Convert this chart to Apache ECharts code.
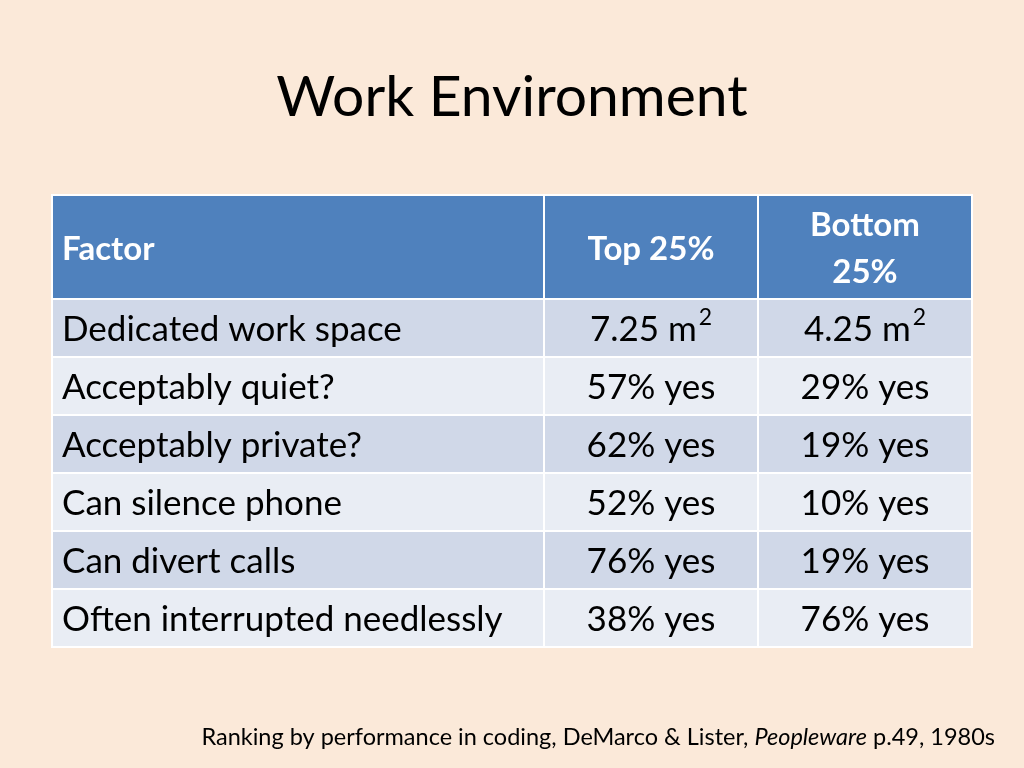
<!DOCTYPE html>
<html>
<head>
<meta charset="utf-8">
<script src="https://cdn.jsdelivr.net/npm/echarts@6/dist/echarts.min.js"></script>
<style>html,body{margin:0;padding:0;background:#fbe9d9}#chart{width:1024px;height:768px}</style>
</head>
<body>
<div id="chart"></div>
<script>
var headers = ['Factor', 'Top 25%', 'Bottom\n25%'];
var factors = ['Dedicated work space', 'Acceptably quiet?', 'Acceptably private?', 'Can silence phone', 'Can divert calls', 'Often interrupted needlessly'];
var top25 = ['7.25 m{sup|2}', '57% yes', '62% yes', '52% yes', '76% yes', '38% yes'];
var bottom25 = ['4.25 m{sup|2}', '29% yes', '19% yes', '10% yes', '19% yes', '76% yes'];

// column edges and row edges in table units (px-like, relative to grid)
var colEdges = [0, 492, 706, 920];
var headerH = 104;
var rowH = 58;

var cells = [];
headers.forEach(function (h, c) { cells.push({ value: [c, -1], text: h }); });
factors.forEach(function (f, r) {
  cells.push({ value: [0, r], text: f });
  cells.push({ value: [1, r], text: top25[r] });
  cells.push({ value: [2, r], text: bottom25[r] });
});

var chart = echarts.init(document.getElementById('chart'));
chart.setOption({
  backgroundColor: '#fbe9d9',
  title: {
    text: 'Work Environment', left: 'center', top: 64,
    textStyle: { fontFamily: 'Lato', fontSize: 57, fontWeight: 'normal', color: '#000' }
  },
  grid: { left: 52, right: 52, top: 195, bottom: 121 },
  xAxis: { type: 'value', min: 0, max: 920, show: false },
  yAxis: { type: 'value', min: 0, max: headerH + rowH * factors.length, inverse: true, show: false },
  series: [{
    type: 'custom',
    data: cells,
    renderItem: function (params, api) {
      var c = api.value(0), r = api.value(1);
      var y0 = r < 0 ? 0 : headerH + r * rowH;
      var y1 = r < 0 ? headerH : y0 + rowH;
      var p0 = api.coord([colEdges[c], y0]);
      var p1 = api.coord([colEdges[c + 1], y1]);
      var fill = r < 0 ? '#4f81bd' : (r % 2 === 0 ? '#d0d8e8' : '#e9edf4');
      var text = cells[params.dataIndex].text;
      var left = c === 0;
      return {
        type: 'group',
        children: [{
          type: 'rect',
          shape: { x: p0[0], y: p0[1], width: p1[0] - p0[0], height: p1[1] - p0[1] },
          style: { fill: fill, stroke: '#ffffff', lineWidth: 2 }
        }, {
          type: 'text',
          x: left ? p0[0] + 10 : (p0[0] + p1[0]) / 2,
          y: (p0[1] + p1[1]) / 2 + 2,
          style: {
            text: text,
            fill: r < 0 ? '#ffffff' : '#000000',
            fontFamily: 'Lato',
            fontSize: r < 0 ? 33 : 35,
            fontWeight: r < 0 ? 'bold' : 'normal',
            lineHeight: 47,
            align: left ? 'left' : 'center',
            verticalAlign: 'middle',
            rich: { sup: { fontSize: 23, verticalAlign: 'top', padding: [0, 0, 10, 2], fontFamily: 'Lato' } }
          }
        }]
      };
    }
  }],
  graphic: [{
    type: 'text', right: 29, top: 725,
    style: {
      text: 'Ranking by performance in coding, DeMarco & Lister, {i|Peopleware} p.49, 1980s',
      fontFamily: 'Lato', fontSize: 23.5, fill: '#000',
      rich: { i: { fontStyle: 'italic', fontFamily: 'Lato', fontSize: 23.5 } }
    }
  }]
});
</script>
</body>
</html>
